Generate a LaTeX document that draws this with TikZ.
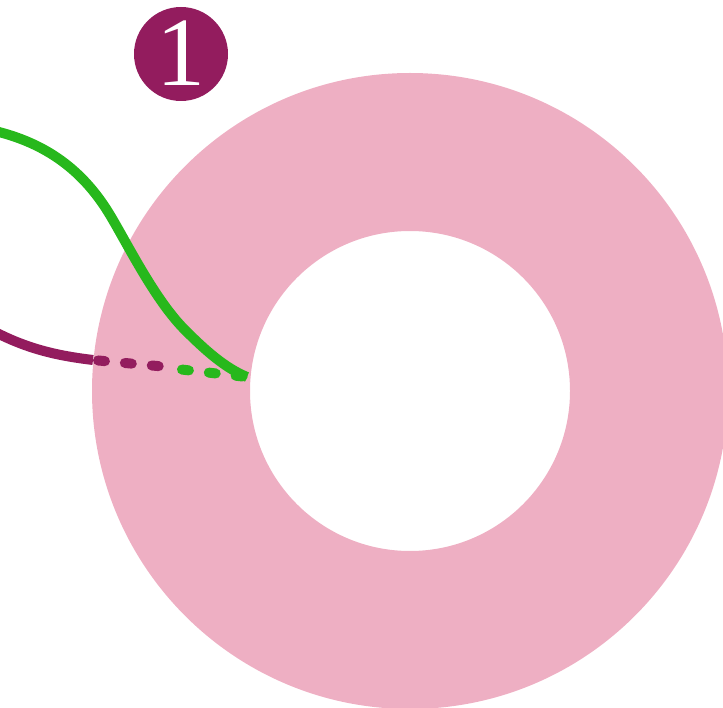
\documentclass[tikz,border=0pt]{standalone}
\usepackage{fontspec}
\setmainfont{Liberation Serif}
\definecolor{ringpink}{HTML}{EEAFC3}
\definecolor{plum}{HTML}{931C5E}
\definecolor{leaf}{HTML}{27B81C}
\begin{document}
\begin{tikzpicture}[x=1pt,y=-1pt,
  wire/.style={line width=10pt,line cap=round},
  dashwire/.style={wire,dash pattern=on 7pt off 20pt}]
\useasboundingbox (0,0) rectangle (723,708);
\fill[ringpink,even odd rule] (410,391) circle[radius=318] (410,391) circle[radius=160];
\node[circle,fill=plum,minimum size=94pt,inner sep=0pt,text=white,font=\fontsize{98}{98}\selectfont] (badge) at (181,54) {\raisebox{1pt}{1}};
\coordinate (p0) at (-5,332);
\coordinate (p1) at (93,360);
\coordinate (p2) at (168,367);
\coordinate (g0) at (-5,131);
\coordinate (g1) at (247,377);
\coordinate (g2) at (177,369);
\draw[wire,plum,line cap=butt] (p0) .. controls (30,350) and (60,356) .. (p1);
\draw[dashwire,plum,dash phase=-5pt] (p1) -- (p2);
\draw[dashwire,leaf,dash phase=-5pt] (g2) -- (g1);
\draw[wire,leaf,line cap=butt] (g0) .. controls (40,142) and (80,165) .. (110,215)
  .. controls (128,245) and (155,300) .. (185,330)
  .. controls (205,350) and (225,368) .. (g1);
\end{tikzpicture}
\end{document}
